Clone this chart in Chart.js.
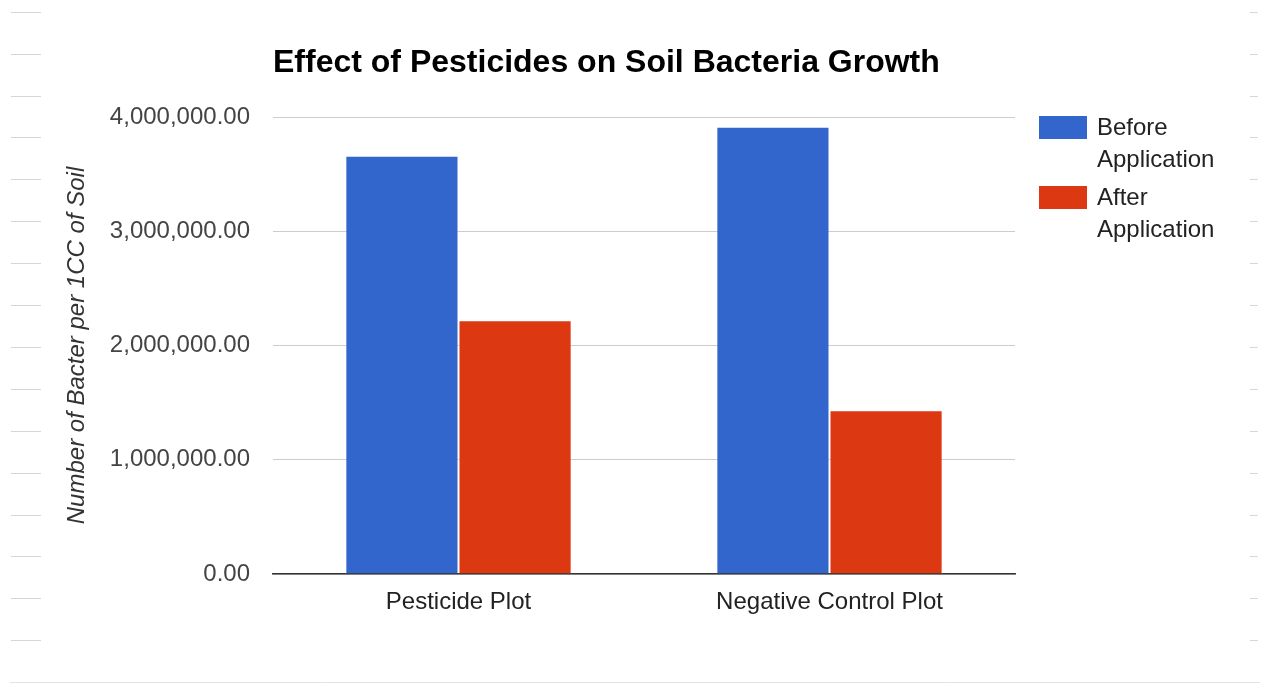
<!DOCTYPE html>
<html>
<head>
<meta charset="utf-8">
<script src="https://cdn.jsdelivr.net/npm/chart.js@4/dist/chart.umd.min.js"></script>
<style>
  html, body { margin: 0; padding: 0; background: #fff; }
  #wrap { width: 1271px; height: 683px; position: relative; }
</style>
</head>
<body>
<div id="wrap"><canvas id="c" width="1271" height="683"></canvas></div>
<script>
const chartTitle = "Effect of Pesticides on Soil Bacteria Growth";
const yAxisTitle = "Number of Bacter per 1CC of Soil";
const categories = ["Pesticide Plot", "Negative Control Plot"];
const seriesNames = [["Before", "Application"], ["After", "Application"]];
const beforeValues = [3660000, 3915000];
const afterValues = [2220000, 1433000];
const seriesColors = ["#3366cc", "#dc3912"];
const yTicks = [0, 1000000, 2000000, 3000000, 4000000];

const FONT = "'Liberation Sans', Arial, sans-serif";

const decoPlugin = {
  id: 'deco',
  beforeDraw(chart) {
    const ctx = chart.ctx;
    ctx.save();
    ctx.fillStyle = '#fff';
    ctx.fillRect(0, 0, chart.width, chart.height);
    ctx.strokeStyle = '#d6d6d6';
    ctx.lineWidth = 1;
    for (let i = 0; i < 16; i++) {
      const y = Math.round(11.7 + i * 41.9) + 0.5;
      ctx.beginPath(); ctx.moveTo(11, y); ctx.lineTo(41, y); ctx.stroke();
      ctx.beginPath(); ctx.moveTo(1250, y); ctx.lineTo(1258, y); ctx.stroke();
    }
    ctx.strokeStyle = '#e2e2e2';
    ctx.beginPath(); ctx.moveTo(10, 682.5); ctx.lineTo(1260, 682.5); ctx.stroke();
    ctx.restore();
  },
  afterDraw(chart) {
    const ctx = chart.ctx;
    const area = chart.chartArea;
    ctx.save();
    // title
    ctx.fillStyle = '#000';
    ctx.font = "bold 32px " + FONT;
    ctx.textAlign = 'left';
    ctx.textBaseline = 'alphabetic';
    ctx.fillText(chartTitle, area.left, 72);
    // legend
    const lx = area.right + 24;
    let ly = area.top - 1;
    ctx.font = "24px " + FONT;
    chart.data.datasets.forEach((ds, i) => {
      ctx.fillStyle = ds.backgroundColor;
      ctx.fillRect(lx, ly, 48, 23);
      ctx.fillStyle = '#222';
      ctx.textBaseline = 'middle';
      const lines = seriesNames[i];
      lines.forEach((t, j) => ctx.fillText(t, lx + 58, ly + 12 + j * 32));
      ly += 70;
    });
    ctx.restore();
  }
};

new Chart(document.getElementById('c'), {
  type: 'bar',
  data: {
    labels: categories,
    datasets: [
      { label: seriesNames[0].join(' '), data: beforeValues, backgroundColor: seriesColors[0],
        borderColor: 'rgba(255,255,255,0.45)', borderWidth: 1 },
      { label: seriesNames[1].join(' '), data: afterValues, backgroundColor: seriesColors[1],
        borderColor: 'rgba(255,255,255,0.45)', borderWidth: 1 }
    ]
  },
  options: {
    responsive: false,
    animation: false,
    layout: { padding: { left: 0, right: 256, top: 117, bottom: 0 } },
    datasets: { bar: { categoryPercentage: 0.61, barPercentage: 1.0 } },
    plugins: {
      legend: { display: false },
      title: { display: false },
      tooltip: { enabled: false }
    },
    scales: {
      x: {
        grid: { display: false, drawTicks: false },
        border: { display: true, color: '#333', width: 1.5 },
        ticks: { color: '#222', font: { family: FONT, size: 24 }, padding: 14 },
        afterFit(s) { s.height = 109; }
      },
      y: {
        min: 0, max: 4000000,
        afterBuildTicks(s) { s.ticks = yTicks.map(v => ({ value: v })); },
        grid: { color: '#cccccc', lineWidth: 1, drawTicks: false },
        border: { display: false },
        ticks: {
          color: '#444', font: { family: FONT, size: 24 }, padding: 23,
          callback: v => Number(v).toLocaleString('en-US', { minimumFractionDigits: 2, maximumFractionDigits: 2 })
        },
        title: {
          display: true, text: yAxisTitle, color: '#333',
          font: { family: FONT, size: 24, style: 'italic' },
          padding: { top: 63, bottom: 0 }
        },
        afterFit(s) { s.width = 273; }
      }
    }
  },
  plugins: [decoPlugin]
});
</script>
</body>
</html>
